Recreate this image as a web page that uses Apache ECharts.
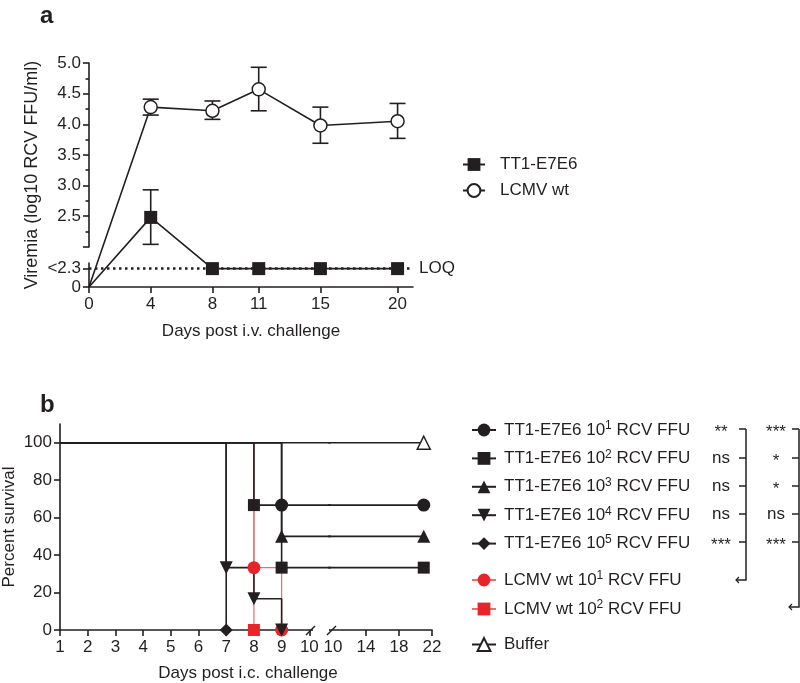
<!DOCTYPE html>
<html><head><meta charset="utf-8">
<script src="https://cdn.jsdelivr.net/npm/echarts@6/dist/echarts.min.js"></script>
<style>html,body{margin:0;padding:0;background:#fff}#c{width:800px;height:683px}</style>
</head><body><div id="c"></div>
<script>
// ---------- Panel a: viremia ----------
const daysA = [0, 4, 8, 11, 15, 20];
const LOQ = 0.3; // plotted level of the "<2.3" (below limit of quantification) row
const tt1Mean = [0, 2.48, LOQ, LOQ, LOQ, LOQ];
const tt1Low  = [null, 2.04, null, null, null, null];
const tt1High = [null, 2.93, null, null, null, null];
const wtMean = [0, 4.28, 4.22, 4.57, 3.98, 4.05];
const wtLow  = [null, 4.15, 4.08, 4.22, 3.69, 3.77];
const wtHigh = [null, 4.41, 4.38, 4.93, 4.28, 4.34];
const yTicksA = [0, LOQ, 2.0, 2.5, 3.0, 3.5, 4.0, 4.5, 5.0];
const yLabelValsA = [0, LOQ, 2.5, 3.0, 3.5, 4.0, 4.5, 5.0];
const yMinorA = [2.25, 2.75, 3.25, 3.75, 4.25, 4.75];
const xTicksA = [0, 4, 8, 11, 15, 20];

// ---------- Panel b: survival ----------
const g1Days = [0, 9, 21],      g1Pct = [100, 66.7, 66.7];
const g2Days = [0, 8, 9, 21],   g2Pct = [100, 66.7, 33.3, 33.3];
const g3Days = [0, 9, 21],      g3Pct = [100, 50, 50];
const g4Days = [0, 7, 8, 9],    g4Pct = [100, 33.3, 16.7, 0];
const g5Days = [0, 7],          g5Pct = [100, 0];
const w1Days = [0, 8, 9],       w1Pct = [100, 33.3, 0];
const w2Days = [0, 8],          w2Pct = [100, 0];
const bufDays = [0, 21],        bufPct = [100, 100];
const xTicksLeft = [1, 2, 3, 4, 5, 6, 7, 8, 9, 10];
const xTicksRight = [14, 18, 22];
const xLabelsRight = [10, 14, 18, 22];
const yTicksB = [0, 20, 40, 60, 80, 100];
const legendTT1 = ['TT1-E7E6 10^1 RCV FFU', 'TT1-E7E6 10^2 RCV FFU', 'TT1-E7E6 10^3 RCV FFU', 'TT1-E7E6 10^4 RCV FFU', 'TT1-E7E6 10^5 RCV FFU'];
const legendWT = ['LCMV wt 10^1 RCV FFU', 'LCMV wt 10^2 RCV FFU'];
const legendBuf = ['Buffer'];
const sig1 = ['**', 'ns', 'ns', 'ns', '***'];
const sig2 = ['***', '*', '*', 'ns', '***'];

const FONT = '"Liberation Sans", Arial, Helvetica, sans-serif';
const INK = '#231f20';
const RED = '#e8242a';
const REDLINE = '#ee6b6b';
const DOWN = 'path://M0,0 L10,0 L5,9 Z';

const chart = echarts.init(document.getElementById('c'), null, {renderer: 'canvas'});

function pts(xs, ys, keep) {
  return xs.map((x, i) => {
    const show = keep ? keep(x, i) : i > 0;
    return show ? [x, ys[i]] : {value: [x, ys[i]], symbol: 'none'};
  });
}

function errSeries(xs, lo, hi) {
  return {
    type: 'custom', xAxisIndex: 0, yAxisIndex: 0, silent: true, z: 1,
    data: xs.map((x, i) => [x, lo[i], hi[i]]).filter(d => d[1] != null),
    encode: {x: 0, y: [1, 2]},
    renderItem(params, api) {
      const x = api.value(0);
      const a = api.coord([x, api.value(1)]);
      const b = api.coord([x, api.value(2)]);
      const w = 8, st = {stroke: INK, lineWidth: 1.6};
      return {type: 'group', children: [
        {type: 'line', shape: {x1: a[0], y1: a[1], x2: b[0], y2: b[1]}, style: st},
        {type: 'line', shape: {x1: a[0] - w, y1: a[1], x2: a[0] + w, y2: a[1]}, style: st},
        {type: 'line', shape: {x1: b[0] - w, y1: b[1], x2: b[0] + w, y2: b[1]}, style: st}
      ]};
    }
  };
}

const axisLineStyle = {color: INK, width: 1.6};
const labelStyle = {color: INK, fontFamily: FONT, fontSize: 17};

const yAxisABase = {
  gridIndex: 0, type: 'value', min: 0, max: 5, position: 'left',
  breaks: [{start: 0.4, end: 2.0, gap: '7%'}],
  breakArea: {show: true, itemStyle: {color: '#fff', opacity: 0, borderColor: 'transparent', borderWidth: 0}, zigzagAmplitude: 0, expandOnClick: false},
  splitLine: {show: false}
};

// Panel b groups (draw order: red first, black on top)
const survGroups = [
  {name: legendWT[0], days: w1Days, pct: w1Pct, symbol: 'circle', size: 13, fill: RED, line: REDLINE, lw: 1.2},
  {name: legendWT[1], days: w2Days, pct: w2Pct, symbol: 'rect', size: 12, fill: RED, line: REDLINE, lw: 1.2},
  {name: legendBuf[0], days: bufDays, pct: bufPct, symbol: 'triangle', size: 13, fill: '#fff', line: INK, lw: 1.6},
  {name: legendTT1[4], days: g5Days, pct: g5Pct, symbol: 'diamond', size: 13, fill: INK, line: INK, lw: 1.6},
  {name: legendTT1[3], days: g4Days, pct: g4Pct, symbol: DOWN, size: 13, fill: INK, line: INK, lw: 1.6},
  {name: legendTT1[2], days: g3Days, pct: g3Pct, symbol: 'triangle', size: 13, fill: INK, line: INK, lw: 1.6},
  {name: legendTT1[1], days: g2Days, pct: g2Pct, symbol: 'rect', size: 12, fill: INK, line: INK, lw: 1.6},
  {name: legendTT1[0], days: g1Days, pct: g1Pct, symbol: 'circle', size: 13, fill: INK, line: INK, lw: 1.6}
];

const survSeries = [];
survGroups.forEach(g => {
  const common = {
    type: 'line', name: g.name, step: 'end', clip: true, silent: true,
    symbol: g.symbol, symbolSize: g.size, showAllSymbol: true,
    itemStyle: {color: g.fill, borderColor: g.fill === '#fff' ? INK : g.fill, borderWidth: g.fill === '#fff' ? 1.5 : 0},
    lineStyle: {color: g.line, width: g.lw}, animation: false
  };
  survSeries.push(Object.assign({}, common, {xAxisIndex: 1, yAxisIndex: 2, data: pts(g.days, g.pct)}));
  if (g.days[g.days.length - 1] > 10) {
    survSeries.push(Object.assign({}, common, {xAxisIndex: 2, yAxisIndex: 3, data: pts(g.days, g.pct, x => x > 10)}));
  }
});

function supFmt(name) {
  return '{t|' + name.replace(/\^(\d)/, '}{s|$1}{t|') + '}';
}
const legendText = {
  color: INK, fontFamily: FONT, fontSize: 17, padding: [0, 0, 0, 3],
  rich: {
    t: {color: INK, fontFamily: FONT, fontSize: 17, lineHeight: 20},
    s: {color: INK, fontFamily: FONT, fontSize: 12, verticalAlign: 'top', lineHeight: 5}
  }
};
function survLegend(names, top, gap) {
  return {
    orient: 'vertical', left: 471, top: top, padding: 0, itemGap: gap, itemWidth: 24, itemHeight: 16,
    selectedMode: false, formatter: supFmt, textStyle: legendText, data: names
  };
}

// significance annotations (graphic)
const rowY = [429, 458, 486, 514, 542];
const sigGraphics = [];
rowY.forEach((y, i) => {
  sigGraphics.push({type: 'text', x: 721, y: y + (sig1[i].indexOf('*') >= 0 ? 3 : 0), style: {text: sig1[i], font: '17px ' + FONT, fill: INK, align: 'center', verticalAlign: 'middle'}});
  sigGraphics.push({type: 'text', x: 776, y: y + (sig2[i].indexOf('*') >= 0 ? 3 : 0), style: {text: sig2[i], font: '17px ' + FONT, fill: INK, align: 'center', verticalAlign: 'middle'}});
  sigGraphics.push({type: 'line', shape: {x1: 739, y1: y, x2: 746, y2: y}, style: {stroke: INK, lineWidth: 1.5}});
  sigGraphics.push({type: 'line', shape: {x1: 792, y1: y, x2: 799, y2: y}, style: {stroke: INK, lineWidth: 1.5}});
});
sigGraphics.push({type: 'polyline', shape: {points: [[746, 429], [746, 580], [736, 580]]}, style: {stroke: INK, lineWidth: 1.5, fill: null}});
sigGraphics.push({type: 'polyline', shape: {points: [[739, 577], [736, 580], [739, 583]]}, style: {stroke: INK, lineWidth: 1.2, fill: null}});
sigGraphics.push({type: 'polyline', shape: {points: [[799, 429], [799, 607], [789, 607]]}, style: {stroke: INK, lineWidth: 1.5, fill: null}});
sigGraphics.push({type: 'polyline', shape: {points: [[792, 604], [789, 607], [792, 610]]}, style: {stroke: INK, lineWidth: 1.2, fill: null}});

const option = {
  backgroundColor: '#fff',
  animation: false,
  textStyle: {fontFamily: FONT},
  grid: [
    {left: 89, top: 63, width: 324, height: 224},
    {left: 60, top: 424, width: 269, height: 206},
    {left: 329, top: 424, width: 103, height: 206}
  ],
  xAxis: [
    {gridIndex: 0, type: 'value', min: 0, max: 21,
     name: 'Days post i.v. challenge', nameLocation: 'middle', nameGap: 36,
     nameTextStyle: {color: INK, fontFamily: FONT, fontSize: 17},
     axisLine: {lineStyle: axisLineStyle}, splitLine: {show: false},
     axisTick: {customValues: xTicksA, length: 6, lineStyle: axisLineStyle},
     axisLabel: Object.assign({customValues: xTicksA, margin: 9}, labelStyle)},
    {gridIndex: 1, type: 'value', min: 1, max: 10.71,
     axisLine: {lineStyle: axisLineStyle}, splitLine: {show: false},
     axisTick: {customValues: xTicksLeft, length: 6, lineStyle: axisLineStyle},
     axisLabel: Object.assign({customValues: xTicksLeft, margin: 9}, labelStyle)},
    {gridIndex: 2, type: 'value', min: 9.515, max: 22,
     axisLine: {lineStyle: axisLineStyle}, splitLine: {show: false},
     axisTick: {customValues: xTicksRight, length: 6, lineStyle: axisLineStyle},
     axisLabel: Object.assign({customValues: xLabelsRight, margin: 9}, labelStyle)}
  ],
  yAxis: [
    Object.assign({}, yAxisABase, {
      name: 'Viremia (log10 RCV FFU/ml)', nameLocation: 'middle', nameGap: 48,
      nameTextStyle: {color: INK, fontFamily: FONT, fontSize: 18},
      axisLine: {lineStyle: axisLineStyle},
      axisTick: {customValues: yTicksA, length: 6, lineStyle: axisLineStyle},
      axisLabel: Object.assign({customValues: yLabelValsA, margin: 8,
        formatter: v => (v === LOQ ? '<2.3' : (v === 0 ? '0' : v.toFixed(1)))}, labelStyle)
    }),
    Object.assign({}, yAxisABase, {
      axisLine: {show: false}, axisLabel: {show: false},
      axisTick: {customValues: yMinorA, length: 3.5, lineStyle: axisLineStyle}
    }),
    {gridIndex: 1, type: 'value', min: 0, max: 110,
     name: 'Percent survival', nameLocation: 'middle', nameGap: 42,
     nameTextStyle: {color: INK, fontFamily: FONT, fontSize: 17},
     axisLine: {lineStyle: axisLineStyle}, splitLine: {show: false},
     axisTick: {customValues: yTicksB, length: 6, lineStyle: axisLineStyle},
     axisLabel: Object.assign({customValues: yTicksB, margin: 8}, labelStyle)},
    {gridIndex: 2, type: 'value', min: 0, max: 110, show: false, splitLine: {show: false}}
  ],
  legend: [
    {orient: 'vertical', left: 462, top: 156, padding: 0, itemGap: 9, itemWidth: 22, itemHeight: 16,
     selectedMode: false, data: ['TT1-E7E6', 'LCMV wt'],
     textStyle: {color: INK, fontFamily: FONT, fontSize: 17, padding: [0, 0, 0, 10]}},
    survLegend(legendTT1, 420, 9.9),
    survLegend(legendWT, 570, 10.5),
    survLegend(legendBuf, 636, 8)
  ],
  series: [
    errSeries(daysA, wtLow, wtHigh),
    errSeries(daysA, tt1Low, tt1High),
    {type: 'line', name: 'LCMV wt', xAxisIndex: 0, yAxisIndex: 0, silent: true,
     data: pts(daysA, wtMean), symbol: 'circle', symbolSize: 13, showAllSymbol: true,
     itemStyle: {color: '#fff', borderColor: INK, borderWidth: 1.5},
     lineStyle: {color: INK, width: 1.6}, z: 3},
    {type: 'line', name: 'TT1-E7E6', xAxisIndex: 0, yAxisIndex: 0, silent: true,
     data: pts(daysA, tt1Mean), symbol: 'rect', symbolSize: 13, showAllSymbol: true,
     itemStyle: {color: INK}, lineStyle: {color: INK, width: 1.6}, z: 3,
     markLine: {silent: true, symbol: 'none', animation: false,
       lineStyle: {color: INK, width: 2.5, type: [2.5, 3.5]},
       label: {show: true, position: 'end', formatter: 'LOQ', color: INK, fontFamily: FONT, fontSize: 17, distance: 6},
       data: [{yAxis: LOQ}]}}
  ].concat(survSeries),
  graphic: [
    {type: 'text', left: 40, top: 4, style: {text: 'a', font: 'bold 24px ' + FONT, fill: INK}},
    {type: 'text', left: 40, top: 393, style: {text: 'b', font: 'bold 24px ' + FONT, fill: INK}},
    {type: 'text', x: 248, y: 673, style: {text: 'Days post i.c. challenge', font: '17px ' + FONT, fill: INK, align: 'center', verticalAlign: 'middle'}},
    {type: 'rect', shape: {x: 313, y: 626, width: 16, height: 8}, style: {fill: '#fff'}, z: 100},
    {type: 'line', shape: {x1: 306, y1: 635, x2: 315, y2: 626}, style: {stroke: INK, lineWidth: 1.5}, z: 101},
    {type: 'line', shape: {x1: 327, y1: 635, x2: 336, y2: 626}, style: {stroke: INK, lineWidth: 1.5}, z: 101},
    {type: 'rect', shape: {x: 86, y: 250, width: 7, height: 11}, style: {fill: '#fff'}, z: 100}
  ].concat(sigGraphics)
};
chart.setOption(option);
</script></body></html>
